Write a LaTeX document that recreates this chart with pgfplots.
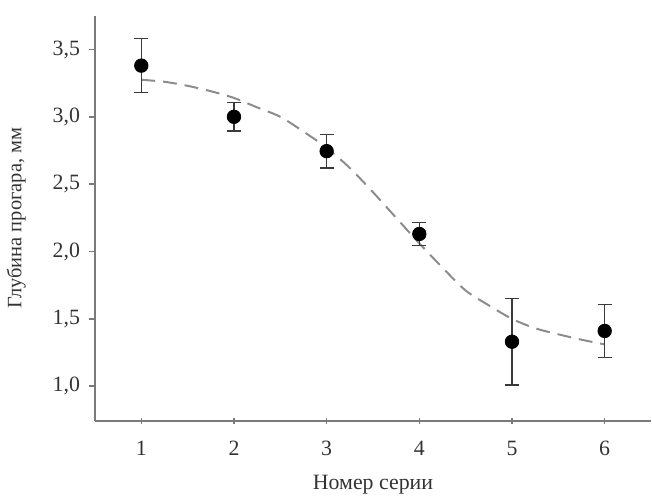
\documentclass[border=0pt]{standalone}
\usepackage{fontspec}
\setmainfont{Liberation Serif}
\usepackage{pgfplots}
\pgfplotsset{compat=1.18}
\definecolor{axisgray}{HTML}{7A7A7A}
\definecolor{errgray}{HTML}{3A3A3A}
\definecolor{fitgray}{HTML}{8C8C8C}
\begin{document}
\begin{tikzpicture}
  \begin{axis}[
      scale only axis,
      width=280pt, height=204pt,
      xmin=0.5, xmax=6.5,
      ymin=0.742, ymax=3.75,
      axis lines*=left,
      axis line style={axisgray, line width=1pt},
      xtick={1,2,3,4,5,6},
      ytick={1,1.5,2,2.5,3,3.5},
      tick style={axisgray, line width=0.8pt},
      major tick length=3pt,
      ytick align=outside,
      xtick align=center,
      /pgf/number format/assume math mode=true,
      yticklabel style={/pgf/number format/fixed, /pgf/number format/fixed zerofill,
        /pgf/number format/precision=1, /pgf/number format/use comma, xshift=-1pt},
      ticklabel style={font=\fontsize{11}{13}\selectfont, text=black!80},
      xticklabel style={yshift=-5pt},
      xlabel={Номер серии},
      ylabel={Глубина прогара, мм},
      xlabel style={font=\fontsize{11}{13}\selectfont, text=black!80,
        at={(axis description cs:0.5,-0.117)}, anchor=north},
      ylabel style={font=\fontsize{10.3}{12}\selectfont, text=black!80,
        at={(axis description cs:-0.112,0.5)}, anchor=south},
      clip=false,
    ]
    % fitted curve, points
    \addplot[fitgray, line width=1pt, dash pattern=on 7pt off 4pt, smooth] coordinates {
      (1,3.275) (1.25,3.26) (1.5,3.23) (1.75,3.19) (2,3.14) (2.25,3.07)
      (2.5,3.00) (2.75,2.89) (3,2.77) (3.25,2.62) (3.5,2.44) (3.75,2.25)
      (4,2.06) (4.25,1.88) (4.5,1.71) (4.75,1.60) (5,1.50) (5.25,1.43)
      (5.5,1.385) (5.75,1.345) (6,1.31)};
    % measured means with error bars
    \addplot[
      only marks, mark=*, mark size=3.4pt, black,
      error bars/.cd, y dir=both, y explicit,
      error bar style={errgray, line width=0.8pt},
      error mark options={errgray, line width=0.8pt, mark size=3.5pt, rotate=90},
    ] coordinates {
      (1,3.38) +- (0,0.20)
      (2,3.00) +- (0,0.107)
      (3,2.745) +- (0,0.123)
      (4,2.13) +- (0,0.085)
      (5,1.33) +- (0,0.322)
      (6,1.41) +- (0,0.197)};
    \coordinate (bbA) at (rel axis cs:-0.164,-0.194);
    \coordinate (bbB) at (rel axis cs:1,1.039);
  \end{axis}
  \path (bbA) rectangle (bbB);
\end{tikzpicture}
\end{document}
